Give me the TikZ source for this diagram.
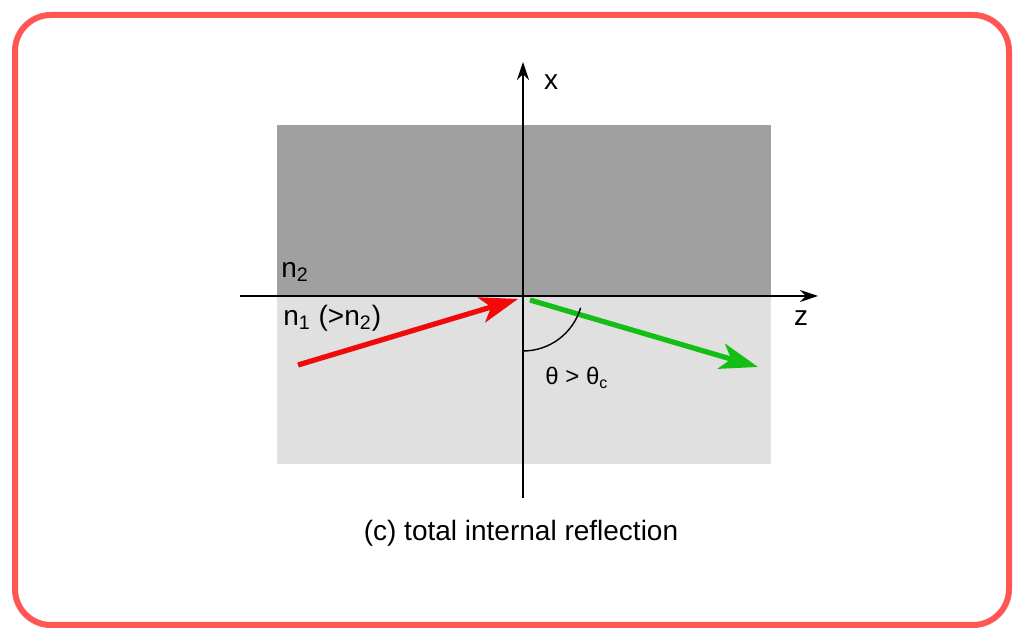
\documentclass[tikz,border=0pt]{standalone}
\usepackage{fontspec}
\setmainfont{Liberation Sans}
\usetikzlibrary{arrows.meta}
\definecolor{frame}{RGB}{255,85,85}
\definecolor{darkmed}{RGB}{160,160,160}
\definecolor{lightmed}{RGB}{224,224,224}
\definecolor{rayred}{RGB}{240,10,10}
\definecolor{raygreen}{RGB}{20,190,20}
\begin{document}
\begin{tikzpicture}[x=0.5pt,y=0.5pt,
  axis/.style={line width=1pt,-{Stealth[length=9pt,width=6pt]}},
  ray/.style={line width=2.6pt,-{Stealth[length=19pt,width=13pt,inset=5pt]}},
  lbl/.style={inner sep=0pt,font=\fontsize{14}{16}\selectfont}]
\useasboundingbox (0,0) rectangle (1024,640);
\draw[frame,line width=3pt,rounded corners=18pt] (15,15) rectangle (1009,625);
\fill[darkmed] (277,344) rectangle (771,515);
\fill[lightmed] (277,176) rectangle (771,344);
% axes
\coordinate (zs) at (240,344);
\coordinate (ze) at (818,344);
\coordinate (xs) at (523,142);
\coordinate (xe) at (523,578);
\coordinate (O) at (523,344);
\draw[axis] (zs) -- (ze);
\draw[axis] (xs) -- (xe);
\node[lbl,anchor=center] (xl) at (551,558) {x};
\node[lbl,anchor=center] (zl) at (801,322) {z};
\node[lbl,anchor=west] (n2) at (281,368) {n\textsubscript{2}};
\node[lbl,anchor=west] (n1) at (283,322) {n\textsubscript{1} (>n\textsubscript{2})};
% rays
\coordinate (rs) at (298,275);
\coordinate (re) at (518,341);
\coordinate (gs) at (530,340);
\coordinate (ge) at (758,273);
\draw[ray,rayred] (rs) -- (re);
\draw[ray,raygreen] (gs) -- (ge);
% angle arc
\draw[line width=0.7pt] (523,289) arc[start angle=270,end angle=343.8,radius=60];
\node[lbl,anchor=west,font=\fontsize{12}{14}\selectfont] (th) at (545,262) {θ > θ\textsubscript{c}};
\node[lbl] (cap) at (521,107) {(c) total internal reflection};
\end{tikzpicture}
\end{document}
